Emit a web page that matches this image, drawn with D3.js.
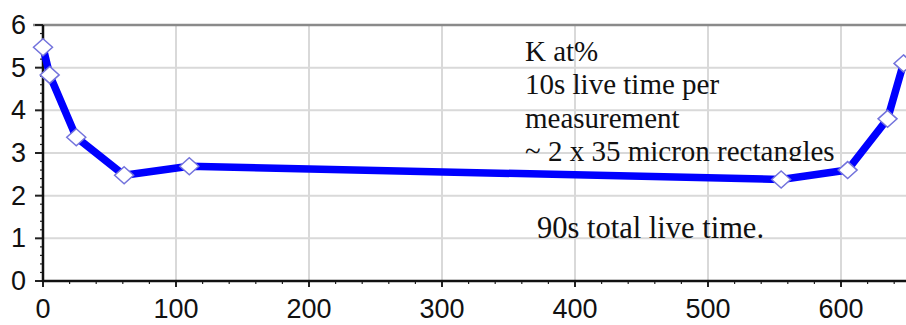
<!DOCTYPE html>
<html lang="en">
<head>
  <meta charset="UTF-8">
  <title>K at% profile</title>
  <script src="https://cdn.jsdelivr.net/npm/d3@7"></script>
  <style>
    body { margin: 0; background: #fff; }
    svg { display: block; }
  </style>
</head>
<body>
  <div id="chart"></div>
  <script>
    const positions = [0, 5, 25, 61, 110, 555, 605, 635, 647];
    const kValues = [5.48, 4.83, 3.37, 2.48, 2.69, 2.38, 2.6, 3.8, 5.1];
    const xTicks = [0, 100, 200, 300, 400, 500, 600];
    const yTicks = [0, 1, 2, 3, 4, 5, 6];
    const noteLines = ["K at%", "10s live time per", "measurement", "~ 2 x 35 micron rectangles"];
    const totalNote = "90s total live time.";

    const W = 906, H = 325;

    const svg = d3.select("#chart")
      .append("svg")
        .attr("width", W)
        .attr("height", H);

    // X scale
    const x = d3.scaleLinear()
      .domain([0, 600])
      .range([43, 841]);

    // Y scale
    const y = d3.scaleLinear()
      .domain([0, 6])
      .range([281, 25]);

    const xMax = x.invert(W + 10);
    const isMajor = v => Math.abs(v - Math.round(v)) < 0.01;

    // gridlines
    svg.append("g")
      .selectAll("line")
      .data(xTicks.filter(d => d > 0))
      .join("line")
        .attr("x1", d => x(d)).attr("x2", d => x(d))
        .attr("y1", y(6)).attr("y2", y(0))
        .attr("stroke", "#d9d9d9")
        .attr("stroke-width", 2);

    svg.append("g")
      .selectAll("line")
      .data(yTicks.filter(d => d > 0 && d < 6))
      .join("line")
        .attr("x1", x(0)).attr("x2", W)
        .attr("y1", d => y(d)).attr("y2", d => y(d))
        .attr("stroke", "#d9d9d9")
        .attr("stroke-width", 2);

    // top frame line
    svg.append("line")
      .attr("x1", x(0) - 10).attr("x2", W)
      .attr("y1", y(6)).attr("y2", y(6))
      .attr("stroke", "#8a8a8a")
      .attr("stroke-width", 2.5);

    // minor ticks
    const xMinor = d3.range(0, xMax, 20);
    svg.append("g")
      .selectAll("line")
      .data(xMinor)
      .join("line")
        .attr("x1", d => x(d)).attr("x2", d => x(d))
        .attr("y1", y(0)).attr("y2", d => y(0) + (d % 100 === 0 ? 6 : 3))
        .attr("stroke", "#222")
        .attr("stroke-width", d => d % 100 === 0 ? 2 : 1.2);

    const yMinor = d3.range(0, 6.01, 0.2);
    svg.append("g")
      .selectAll("line")
      .data(yMinor)
      .join("line")
        .attr("x1", x(0)).attr("x2", d => x(0) - (isMajor(d) ? 8 : 3))
        .attr("y1", d => y(d)).attr("y2", d => y(d))
        .attr("stroke", "#222")
        .attr("stroke-width", d => isMajor(d) ? 2 : 1.2);

    // axis lines
    svg.append("line")
      .attr("x1", x(0)).attr("x2", W)
      .attr("y1", y(0)).attr("y2", y(0))
      .attr("stroke", "#111").attr("stroke-width", 2.5);
    svg.append("line")
      .attr("x1", x(0)).attr("x2", x(0))
      .attr("y1", y(0) + 1).attr("y2", y(6))
      .attr("stroke", "#111").attr("stroke-width", 2.5);

    // tick labels
    svg.append("g")
      .selectAll("text")
      .data(xTicks)
      .join("text")
        .attr("x", d => x(d))
        .attr("y", 318)
        .attr("text-anchor", "middle")
        .style("font-family", "'Liberation Sans', Arial, sans-serif")
        .style("font-size", "27px")
        .attr("fill", "#111")
        .text(d => d);

    svg.append("g")
      .selectAll("text")
      .data(yTicks)
      .join("text")
        .attr("x", 26)
        .attr("y", d => y(d) + 9)
        .attr("text-anchor", "end")
        .style("font-family", "'Liberation Sans', Arial, sans-serif")
        .style("font-size", "27px")
        .attr("fill", "#111")
        .text(d => d);

    // the line
    const pts = positions.map((p, i) => ({ p, k: kValues[i] }));
    svg.append("path")
      .datum(pts)
      .attr("fill", "none")
      .attr("stroke", "#0000ff")
      .attr("stroke-width", 7.5)
      .attr("stroke-linejoin", "round")
      .attr("d", d3.line()
        .x(d => x(d.p))
        .y(d => y(d.k))
      );

    // diamond markers
    svg.selectAll("path.mk")
      .data(pts)
      .join("path")
        .attr("class", "mk")
        .attr("transform", d => `translate(${x(d.p)},${y(d.k)})`)
        .attr("d", "M0,-8.5L9.5,0L0,8.5L-9.5,0Z")
        .attr("fill", "#fff")
        .attr("stroke", "#7373dc")
        .attr("stroke-width", 1.5);

    // annotation text, last line clipped like the original text box
    svg.append("clipPath")
      .attr("id", "noteClip")
      .append("rect")
        .attr("x", 500).attr("y", 30)
        .attr("width", 400).attr("height", 131);

    svg.append("g")
      .attr("clip-path", "url(#noteClip)")
      .selectAll("text")
      .data(noteLines)
      .join("text")
        .attr("x", 525)
        .attr("y", (d, i) => 61 + i * 33.3)
        .style("font-family", "'Liberation Serif', 'Times New Roman', serif")
        .style("font-size", "29px")
        .attr("fill", "#111")
        .text(d => d);

    svg.append("text")
      .attr("x", 537)
      .attr("y", 238)
      .style("font-family", "'Liberation Serif', 'Times New Roman', serif")
      .style("font-size", "30.5px")
      .attr("fill", "#111")
      .text(totalNote);
  </script>
</body>
</html>
